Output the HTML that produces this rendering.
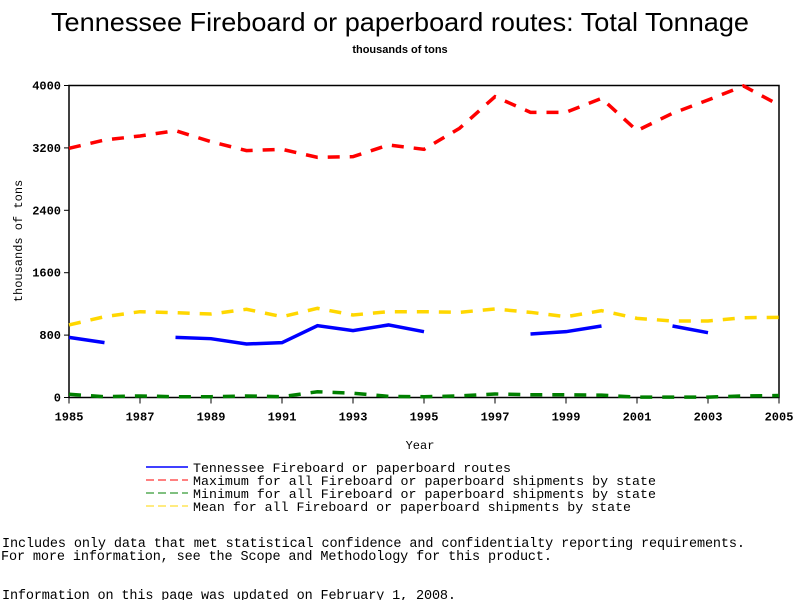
<!DOCTYPE html>
<html><head><meta charset="utf-8"><style>
body{margin:0;background:#fff;width:800px;height:600px;overflow:hidden}
svg text{font-family:"Liberation Mono",monospace}
</style></head><body>
<svg id="chart" width="800" height="600" xmlns="http://www.w3.org/2000/svg">
<text x="400" y="31" text-anchor="middle" font-size="26" style="font-family:'Liberation Sans',sans-serif" textLength="698" lengthAdjust="spacingAndGlyphs">Tennessee Fireboard or paperboard routes: Total Tonnage</text>
<text x="400" y="53" text-anchor="middle" font-size="11" font-weight="bold" style="font-family:'Liberation Sans',sans-serif">thousands of tons</text>
<text transform="translate(22,241) rotate(-90)" text-anchor="middle" font-size="12">thousands of tons</text>
<text x="420" y="449" text-anchor="middle" font-size="12">Year</text>
<g id="grid"></g>
<g id="series"></g>
<g font-size="13">
<line x1="146" y1="467" x2="188" y2="467" stroke="#0000ff" stroke-width="1.5"/>
<text x="193" y="472" textLength="318" lengthAdjust="spacingAndGlyphs">Tennessee Fireboard or paperboard routes</text>
<line x1="146" y1="480" x2="188" y2="480" stroke="#ff0000" stroke-dasharray="8,4"/>
<text x="193" y="485" textLength="463" lengthAdjust="spacingAndGlyphs">Maximum for all Fireboard or paperboard shipments by state</text>
<line x1="146" y1="493" x2="188" y2="493" stroke="#008000" stroke-dasharray="8,4"/>
<text x="193" y="498" textLength="463" lengthAdjust="spacingAndGlyphs">Minimum for all Fireboard or paperboard shipments by state</text>
<line x1="146" y1="506" x2="188" y2="506" stroke="#ffd700" stroke-dasharray="8,4"/>
<text x="193" y="511" textLength="438" lengthAdjust="spacingAndGlyphs">Mean for all Fireboard or paperboard shipments by state</text>
</g>
<text x="2" y="547" font-size="13.5" textLength="743" lengthAdjust="spacing">Includes only data that met statistical confidence and confidentialty reporting requirements.</text>
<text x="1" y="560" font-size="13.5" textLength="551" lengthAdjust="spacing">For more information, see the Scope and Methodology for this product.</text>
<text x="2" y="599" font-size="13.5" textLength="454" lengthAdjust="spacing">Information on this page was updated on February 1, 2008.</text>
</svg>
<script>
const years=[1985,1986,1987,1988,1989,1990,1991,1992,1993,1994,1995,1996,1997,1998,1999,2000,2001,2002,2003,2004,2005];
const tennessee=[771,703,null,771,754,686,703,921,857,930,844,null,null,814,844,917,null,917,831,null,null];
const maximum=[3195,3301,3353,3421,3280,3165,3182,3079,3088,3237,3182,3451,3857,3656,3656,3835,3421,3643,3814,3994,3750];
const minimum=[41,10,20,10,10,20,10,74,55,15,10,20,45,35,35,30,5,5,5,20,25];
const mean=[930,1036,1100,1087,1070,1131,1036,1143,1058,1100,1100,1092,1135,1092,1036,1113,1015,981,981,1023,1028];
const yTicks=[0,800,1600,2400,3200,4000];
const xTicks=[1985,1987,1989,1991,1993,1995,1997,1999,2001,2003,2005];
const X0=69,X1=779,Y0=397.5,Y1=85.5;
const xs=y=>X0+(y-1985)/(2005-1985)*(X1-X0);
const ys=v=>Y0-v/4000*(Y0-Y1);
const NS="http://www.w3.org/2000/svg";
const grid=document.getElementById('grid'),ser=document.getElementById('series');
function mk(tag,attrs,parent){const e=document.createElementNS(NS,tag);for(const k in attrs)e.setAttribute(k,attrs[k]);parent.appendChild(e);return e;}
const frame=mk('rect',{x:X0,y:Y1,width:X1-X0,height:Y0-Y1,fill:'none',stroke:'#000','stroke-width':1.5},grid);


yTicks.forEach(v=>{
 const t=mk('line',{x1:X0-5,x2:X0,y1:ys(v),y2:ys(v),stroke:'#000'},grid);
 
 
 const l=mk('text',{x:X0-8,y:ys(v)+4,'text-anchor':'end','font-size':12,'font-weight':'bold'},grid);
 l.textContent=v;
 
 
});
xTicks.forEach(v=>{
 const t=mk('line',{x1:xs(v),x2:xs(v),y1:Y0,y2:Y0+6,stroke:'#000'},grid);
 
 
 const l=mk('text',{x:xs(v),y:Y0+23,'text-anchor':'middle','font-size':12,'font-weight':'bold'},grid);
 l.textContent=v;
 
 
});
function draw(vals,color,dash,name){
 let segs=[],cur=[];
 vals.forEach((v,i)=>{if(v==null){if(cur.length)segs.push(cur);cur=[];}else cur.push([xs(years[i]),ys(v)]);});
 if(cur.length)segs.push(cur);
 segs.forEach(s=>{
  const p=mk('polyline',{points:s.map(q=>q.join(',')).join(' '),fill:'none',stroke:color,'stroke-width':3.5,'stroke-dasharray':dash},ser);
  
  
 });
}
draw(mean,'#ffd700','12,10','mean-line');
draw(minimum,'#008000','12,10','minimum-line');
draw(maximum,'#ff0000','12,10','maximum-line');
draw(tennessee,'#0000ff','none','tennessee-line');
</script>
</body></html>
